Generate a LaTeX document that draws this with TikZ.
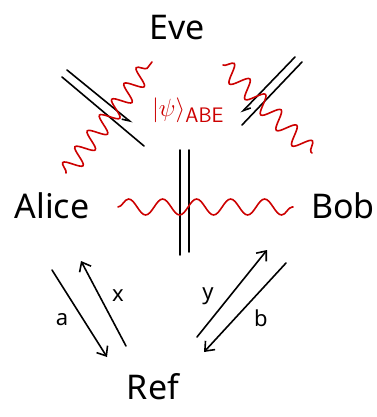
\documentclass[tikz,border=0pt]{standalone}
\usepackage{fontspec}
\setmainfont{Noto Sans}
\usetikzlibrary{arrows.meta,decorations.pathmorphing}
\definecolor{wred}{RGB}{204,0,0}
\tikzset{
  party/.style={font=\fontsize{34}{40}\selectfont, inner sep=0pt},
  lbl/.style={font=\fontsize{22}{26}\selectfont, inner sep=0pt},
  rail/.style={line width=1.6pt, line cap=round},
  harp/.style={rail, -{Straight Barb[left, length=7pt, width=7pt]}},
  harpr/.style={rail, -{Straight Barb[right, length=7pt, width=7pt]}},
  barb/.style={rail, -{Straight Barb[length=8pt, width=13pt]}},
  wave/.style={wred, line width=1.6pt, line cap=round, decorate,
     decoration={snake, amplitude=#1, segment length=20pt}},
}
\begin{document}
\begin{tikzpicture}[x=1pt,y=-1pt]
\useasboundingbox (0,0) rectangle (376,417);
% parties
\node[party] (eve) at (177,28) {Eve};
\node[party] (alice) at (52,206) {Alice};
\node[party] (bob) at (343,206) {Bob};
\node[party] (ref) at (153,387) {Ref};
\node[wred, font=\fontsize{30}{34}\selectfont, inner sep=0pt] (psi) at (188,110) {$|\psi\rangle_{\mathsf{ABE}}$};
% top-left channel
\coordinate (tla1) at (67,70); \coordinate (tla2) at (132,123);
\coordinate (tlb1) at (62,77); \coordinate (tlb2) at (144,146);
\draw[harpr] (tla1) -- (tla2);
\draw[rail] (tlb1) -- (tlb2);
% top-right channel
\coordinate (tra1) at (295,57); \coordinate (tra2) at (241,113);
\coordinate (trb1) at (302,62); \coordinate (trb2) at (242,125);
\draw[harp] (tra1) -- (tra2);
\draw[rail] (trb1) -- (trb2);
% vertical double line
\coordinate (v1a) at (180,150); \coordinate (v1b) at (180,255);
\coordinate (v2a) at (189,150); \coordinate (v2b) at (189,252);
\draw[rail] (v1a) -- (v1b);
\draw[rail] (v2a) -- (v2b);
% red waves
\coordinate (w1a) at (66,173); \coordinate (w1b) at (152,62);
\draw[wave=9pt, decoration={segment length=20pt}] (w1a) -- (w1b);
\coordinate (w2a) at (223,65); \coordinate (w2b) at (312,153);
\draw[wave=9pt, decoration={segment length=22pt}] (w2a) -- (w2b);
\coordinate (w3a) at (118,207); \coordinate (w3b) at (293,207);
\draw[wave=8pt, decoration={segment length=34pt}] (w3a) -- (w3b);
% lower left
\coordinate (aa) at (52,270); \coordinate (ab) at (107,357);
\coordinate (xa) at (126,346); \coordinate (xb) at (81,261);
\draw[barb] (aa) -- (ab);
\draw[barb] (xa) -- (xb);
\node[lbl] (la) at (62,320) {a};
\node[lbl] (lx) at (118,296) {x};
% lower right
\coordinate (ya) at (197,337); \coordinate (yb) at (267,250);
\coordinate (ba) at (286,263); \coordinate (bb) at (204,352);
\draw[barb] (ya) -- (yb);
\draw[barb] (ba) -- (bb);
\node[lbl] (ly) at (208,296) {y};
\node[lbl] (lb) at (261,318) {b};
\end{tikzpicture}
\end{document}
